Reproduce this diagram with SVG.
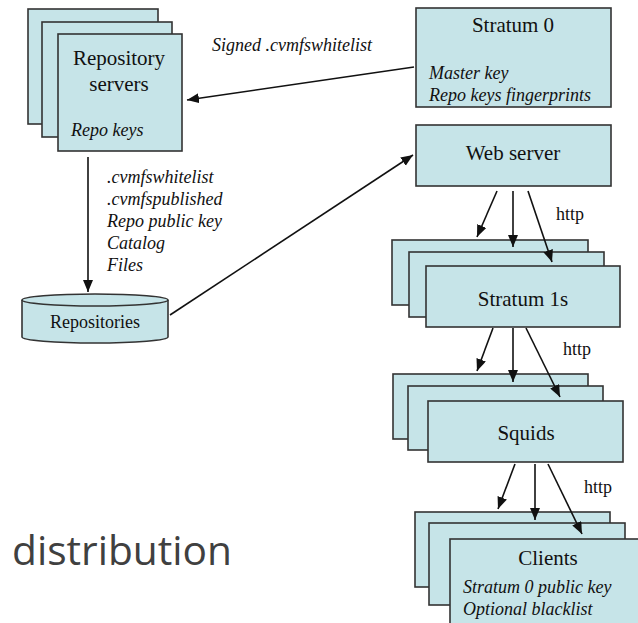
<svg xmlns="http://www.w3.org/2000/svg" width="638" height="623" viewBox="0 0 638 623">
  <defs>
    <marker id="arrow" markerUnits="userSpaceOnUse" markerWidth="14" markerHeight="12" refX="12" refY="5" orient="auto">
      <path d="M0,0 L12,5 L0,10 Z" fill="#111" stroke="none"/>
    </marker>
  </defs>
  <rect width="638" height="623" fill="#fff"/>

  <!-- Repository servers (stacked) -->
  <g id="repository-servers">
    <g fill="#c6e4e8" stroke="#333" stroke-width="1.6">
      <rect x="28" y="9" width="130" height="115"/>
      <rect x="42" y="22" width="130" height="115"/>
      <rect x="58" y="34" width="124" height="117"/>
    </g>
    <text font-family="Liberation Serif" font-size="21" fill="#111" text-anchor="middle" x="119" y="65">Repository</text>
    <text font-family="Liberation Serif" font-size="21" fill="#111" text-anchor="middle" x="119" y="91">servers</text>
    <text font-family="Liberation Serif" font-size="18" font-style="italic" fill="#111" x="71" y="136">Repo keys</text>
  </g>

  <!-- Stratum 0 -->
  <g id="stratum-0">
    <rect fill="#c6e4e8" stroke="#333" stroke-width="1.6" x="416" y="8" width="195" height="99"/>
    <text font-family="Liberation Serif" font-size="21" fill="#111" text-anchor="middle" x="513" y="32">Stratum 0</text>
    <text font-family="Liberation Serif" font-size="18" font-style="italic" fill="#111" x="429" y="79">Master key</text>
    <text font-family="Liberation Serif" font-size="18" font-style="italic" fill="#111" x="429" y="101">Repo keys fingerprints</text>
  </g>

  <!-- Web server -->
  <g id="web-server">
    <rect fill="#c6e4e8" stroke="#333" stroke-width="1.6" x="416" y="125" width="195" height="61"/>
    <text font-family="Liberation Serif" font-size="21" fill="#111" text-anchor="middle" x="513" y="160">Web server</text>
  </g>

  <!-- Repositories (cylinder) -->
  <g id="repositories">
    <g fill="#c6e4e8" stroke="#333" stroke-width="1.6">
      <path d="M22,300 L22,337 A73,6 0 0 0 168,337 L168,300"/>
      <ellipse cx="95" cy="300" rx="73" ry="6"/>
    </g>
    <text font-family="Liberation Serif" font-size="18" fill="#111" text-anchor="middle" x="95" y="328">Repositories</text>
  </g>

  <!-- Stratum 1s (stacked) -->
  <g id="stratum-1s">
    <g fill="#c6e4e8" stroke="#333" stroke-width="1.6">
      <rect x="392" y="240" width="196" height="65"/>
      <rect x="409" y="252" width="195" height="65"/>
      <rect x="426" y="266" width="194" height="61"/>
    </g>
    <text font-family="Liberation Serif" font-size="21" fill="#111" text-anchor="middle" x="523" y="306">Stratum 1s</text>
  </g>

  <!-- Squids (stacked) -->
  <g id="squids">
    <g fill="#c6e4e8" stroke="#333" stroke-width="1.6">
      <rect x="393" y="374" width="195" height="65"/>
      <rect x="408" y="386" width="195" height="64"/>
      <rect x="428" y="401" width="195" height="61"/>
    </g>
    <text font-family="Liberation Serif" font-size="21" fill="#111" text-anchor="middle" x="526" y="440">Squids</text>
  </g>

  <!-- Clients (stacked) -->
  <g id="clients">
    <g fill="#c6e4e8" stroke="#333" stroke-width="1.6">
      <rect x="415" y="512" width="195" height="75"/>
      <rect x="429" y="523" width="196" height="82"/>
      <rect x="450" y="539" width="200" height="100"/>
    </g>
    <text font-family="Liberation Serif" font-size="21" fill="#111" text-anchor="middle" x="548" y="565">Clients</text>
    <text font-family="Liberation Serif" font-size="18" font-style="italic" fill="#111" x="463" y="593">Stratum 0 public key</text>
    <text font-family="Liberation Serif" font-size="18" font-style="italic" fill="#111" x="463" y="615">Optional blacklist</text>
  </g>

  <!-- Connectors -->
  <g id="connectors" stroke="#111" stroke-width="1.6" fill="none" marker-end="url(#arrow)">
    <line x1="414" y1="67" x2="187" y2="100"/>
    <line x1="88" y1="157" x2="88" y2="292"/>
    <line x1="170" y1="315" x2="413" y2="155"/>

    <line x1="497" y1="191" x2="477" y2="237"/>
    <line x1="513" y1="191" x2="513" y2="247"/>
    <line x1="528" y1="191" x2="552" y2="262"/>

    <line x1="493" y1="328" x2="477" y2="371"/>
    <line x1="513" y1="328" x2="513" y2="382"/>
    <line x1="526" y1="328" x2="560" y2="397"/>

    <line x1="515" y1="464" x2="498" y2="509"/>
    <line x1="535" y1="464" x2="535" y2="520"/>
    <line x1="548" y1="464" x2="582" y2="534"/>
  </g>

  <!-- Connector labels -->
  <g id="labels">
    <text font-family="Liberation Serif" font-size="18" font-style="italic" fill="#111" x="212" y="51">Signed .cvmfswhitelist</text>
    <text font-family="Liberation Serif" font-size="18" font-style="italic" fill="#111" x="107" y="183">.cvmfswhitelist</text>
    <text font-family="Liberation Serif" font-size="18" font-style="italic" fill="#111" x="107" y="205">.cvmfspublished</text>
    <text font-family="Liberation Serif" font-size="18" font-style="italic" fill="#111" x="107" y="227">Repo public key</text>
    <text font-family="Liberation Serif" font-size="18" font-style="italic" fill="#111" x="107" y="249">Catalog</text>
    <text font-family="Liberation Serif" font-size="18" font-style="italic" fill="#111" x="107" y="271">Files</text>
    <text font-family="Liberation Serif" font-size="18" fill="#111" x="556" y="220">http</text>
    <text font-family="Liberation Serif" font-size="18" fill="#111" x="563" y="355">http</text>
    <text font-family="Liberation Serif" font-size="18" fill="#111" x="584" y="493">http</text>
  </g>

  <text x="12" y="565" font-family="Open Sans" font-size="40" fill="#404040" textLength="220" lengthAdjust="spacingAndGlyphs">distribution</text>
</svg>
